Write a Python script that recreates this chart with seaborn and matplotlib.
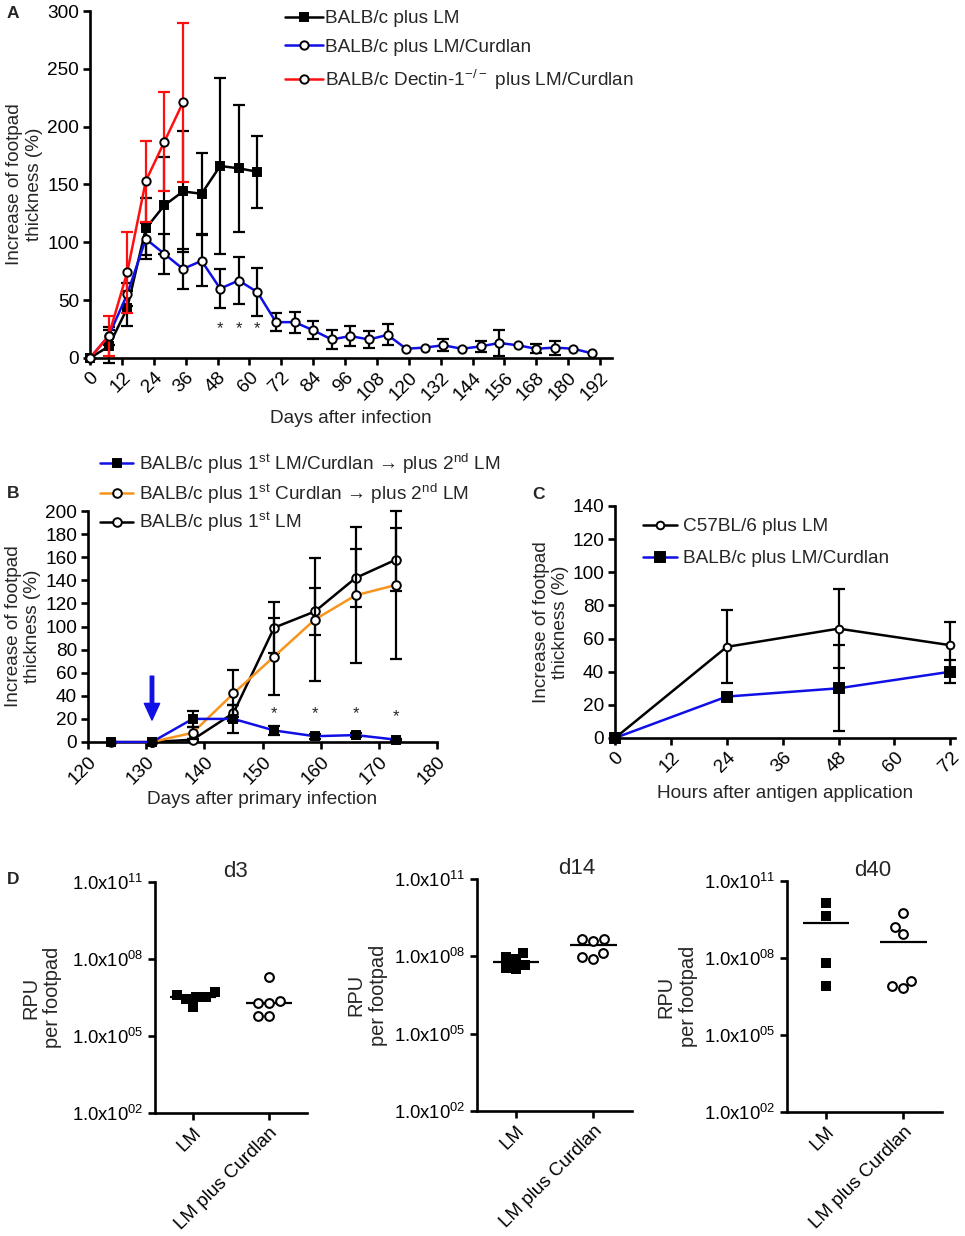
import numpy as np
import pandas as pd
import matplotlib
matplotlib.use("Agg")
import matplotlib.pyplot as plt
import seaborn as sns

# ---------------- data ----------------
# A: footpad swelling after infection (mean, error)
a_days_lm = [0, 7, 14, 21, 28, 35, 42, 49, 56, 63]
a_mean_lm = [0, 10, 43, 112, 132, 144, 142, 166, 164, 161]
a_err_lm = [0, 14, 15, 26, 42, 52, 35, 76, 55, 31]

a_days_cur = [0, 7, 14, 21, 28, 35, 42, 49, 56, 63, 70, 77, 84, 91, 98, 105, 112,
              119, 126, 133, 140, 147, 154, 161, 168, 175, 182, 189]
a_mean_cur = [0, 19, 55, 103, 90, 77, 84, 60, 67, 57, 31, 31, 24, 16, 19, 16, 20,
              8, 9, 11, 8, 10, 13, 11, 8, 9, 8, 4]
a_err_cur = [0, 8, 10, 14, 17, 17, 22, 17, 20, 21, 8, 9, 8, 8, 9, 7, 9,
             0, 0, 5, 0, 5, 11, 0, 4, 6, 0, 0]

a_days_dec = [0, 7, 14, 21, 28, 35]
a_mean_dec = [0, 19, 74, 153, 187, 221]
a_err_dec = [0, 17, 35, 35, 43, 69]

a_star_days = [49, 56, 63]
a_star_y = 25

# B: secondary infection
b_days = [124, 131, 138, 145, 152, 159, 166, 173]
b_mean_lmcur = [0, 0, 20, 20, 10, 5, 6, 2]
b_err_lmcur = [0, 0, 7, 12, 4, 2, 2, 1]
b_mean_cur = [0, 0, 8, 42, 74, 106, 127, 136]
b_err_cur = [0, 0, 5, 20, 33, 53, 59, 64]
b_days_lm = [131, 138, 145, 152, 159, 166, 173]
b_mean_lm = [0, 2, 25, 99, 113, 142, 158]
b_err_lm = [0, 1, 7, 22, 20, 25, 27]

b_star_days = [152, 159, 166, 173]
b_star_y = [25, 25, 25, 22]
b_arrow_day = 131
b_arrow_from, b_arrow_to = 57, 19

# C: DTH after antigen application
c_hours = [0, 24, 48, 72]
c_mean_b6 = [0, 55, 66, 56]
c_err_b6 = [0, 22, 24, 14]
c_mean_balb = [0, 25, 30, 40]
c_err_balb = [0, 2, 26, 7]

# D: RPU per footpad
d_groups = ["LM", "LM plus Curdlan"]
d_days = ["d3", "d14", "d40"]
d_lm = {
    "d3": [3.2e6, 5.2e6, 4.0e6, 2.7e6, 1.4e6, 3.2e6],
    "d14": [1.4e8, 9.1e7, 7.6e7, 4.6e7, 3.1e7, 3.4e7],
    "d40": [1.4e10, 4.5e9, 6.3e7, 8.1e6],
}
d_cur = {
    "d3": [2.0e7, 2.0e6, 2.3e6, 1.9e6, 6.2e5, 6.2e5],
    "d14": [4.5e8, 4.0e8, 4.8e8, 1.3e8, 7.9e7, 9.1e7],
    "d40": [5.6e9, 1.6e9, 8.3e8, 1.3e7, 6.5e6, 7.9e6],
}
d_ticks = [1e2, 1e5, 1e8, 1e11]
d_tick_labels = ["1.0x10$^{02}$", "1.0x10$^{05}$", "1.0x10$^{08}$", "1.0x10$^{11}$"]

BLUE = "#1010E6"
RED = "#FF1010"
ORANGE = "#F7941D"
FS = 13.7

# ---------------- style ----------------
sns.set_style("ticks")
plt.rcParams["font.family"] = ["Liberation Sans", "DejaVu Sans"]
plt.rcParams["mathtext.fontset"] = "custom"
plt.rcParams["mathtext.rm"] = "Liberation Sans"
plt.rcParams["mathtext.default"] = "regular"
plt.rcParams["axes.linewidth"] = 1.9
plt.rcParams["xtick.major.width"] = 1.9
plt.rcParams["ytick.major.width"] = 1.9
plt.rcParams["xtick.major.size"] = 5
plt.rcParams["ytick.major.size"] = 5
plt.rcParams["xtick.major.pad"] = 3
plt.rcParams["ytick.major.pad"] = 3
plt.rcParams["xtick.color"] = "black"
plt.rcParams["ytick.color"] = "black"
plt.rcParams["axes.edgecolor"] = "black"

W, H = 965, 1236
fig = plt.figure(figsize=(W / 100, H / 100), dpi=100)


def rect(l, t, r, b):
    return [l / W, 1 - b / H, (r - l) / W, (b - t) / H]


def series(ax, x, y, err, color, marker, filled, ecolor, label, z, ms=6.2):
    df = pd.DataFrame({"x": x, "y": y, "err": err})
    e = df[df["err"] > 0]
    ax.errorbar(e["x"], e["y"], yerr=e["err"], fmt="none", ecolor=ecolor,
                elinewidth=1.6, capsize=4.5, capthick=1.6, zorder=z - 0.5, clip_on=False)
    sns.lineplot(data=df, x="x", y="y", ax=ax, color=color, lw=1.8, marker=marker,
                 markersize=ms, markerfacecolor="black" if filled else "white",
                 markeredgecolor="black", markeredgewidth=1.4, errorbar=None,
                 sort=False, zorder=z, clip_on=False, label=label)


def finish(ax, xticks, yticks, xlab, ylab, xlab_y, ylab_x):
    sns.despine(ax=ax)
    ax.set_xticks(xticks)
    ax.set_xticklabels([str(t) for t in xticks], rotation=45, ha="right",
                       rotation_mode="anchor", fontsize=FS)
    ax.set_yticks(yticks)
    ax.set_yticklabels([str(t) for t in yticks], fontsize=FS)
    ax.set_xlabel(xlab, fontsize=FS, va="center")
    ax.set_ylabel(ylab, fontsize=FS, va="center")
    ax.xaxis.set_label_coords(0.5, xlab_y)
    ax.yaxis.set_label_coords(ylab_x, 0.5)


# ---------------- panel A ----------------
axA = fig.add_axes(rect(90, 11, 612, 358))
series(axA, a_days_lm, a_mean_lm, a_err_lm, "black", "s", True, "black", "BALB/c plus LM", 3)
series(axA, a_days_cur, a_mean_cur, a_err_cur, BLUE, "o", False, "black", "BALB/c plus LM/Curdlan", 4, ms=6)
series(axA, a_days_dec, a_mean_dec, a_err_dec, RED, "o", False, RED,
       "BALB/c Dectin-1$^{-/-}$ plus LM/Curdlan", 5, ms=6)
axA.set_xlim(0, 196.5)
axA.set_ylim(0, 300)
for d in a_star_days:
    axA.text(d, a_star_y, "*", ha="center", va="center", fontsize=12)
finish(axA, list(range(0, 193, 12)), list(range(0, 301, 50)), "Days after infection",
       "Increase of footpad\nthickness (%)", -0.175, -0.126)
axA.legend(loc="upper left", bbox_to_anchor=(285 / W, 1 - 10 / H), bbox_transform=fig.transFigure,
           frameon=False, fontsize=FS, borderpad=0, borderaxespad=0, handlelength=2.0,
           handletextpad=0.1, labelspacing=0.6)

# ---------------- panel B ----------------
axB = fig.add_axes(rect(88, 511, 437, 742))
series(axB, b_days_lm, b_mean_lm, b_err_lm, "black", "o", False, "black", "BALB/c plus 1$^{st}$ LM", 3)
series(axB, b_days, b_mean_cur, b_err_cur, ORANGE, "o", False, "black",
       "BALB/c plus 1$^{st}$ Curdlan \u2192 plus 2$^{nd}$ LM", 4)
series(axB, b_days, b_mean_lmcur, b_err_lmcur, BLUE, "s", True, "black",
       "BALB/c plus 1$^{st}$ LM/Curdlan \u2192 plus 2$^{nd}$ LM", 5)
axB.set_xlim(120, 180)
axB.set_ylim(0, 200)
for d, yv in zip(b_star_days, b_star_y):
    axB.text(d, yv, "*", ha="center", va="center", fontsize=12)
axB.annotate("", xy=(b_arrow_day, b_arrow_to), xytext=(b_arrow_day, b_arrow_from),
             arrowprops=dict(color=BLUE, width=2.5, headwidth=11, headlength=12))
finish(axB, list(range(120, 181, 10)), list(range(0, 201, 20)), "Days after primary infection",
       "Increase of footpad\nthickness (%)", -0.25, -0.186)
hB, lB = axB.get_legend_handles_labels()
axB.legend(hB[::-1], lB[::-1], loc="upper left", bbox_to_anchor=(100 / W, 1 - 452 / H),
           bbox_transform=fig.transFigure, frameon=False, fontsize=FS, borderpad=0,
           borderaxespad=0, handlelength=1.75, handletextpad=0.3, labelspacing=0.28)

# ---------------- panel C ----------------
axC = fig.add_axes(rect(615, 506, 955, 738))
series(axC, c_hours, c_mean_b6, c_err_b6, "black", "o", False, "black", "C57BL/6 plus LM", 3, ms=5.5)
series(axC, c_hours, c_mean_balb, c_err_balb, BLUE, "s", True, "black", "BALB/c plus LM/Curdlan", 4, ms=7)
axC.set_xlim(0, 73)
axC.set_ylim(0, 140)
finish(axC, list(range(0, 73, 12)), list(range(0, 141, 20)), "Hours after antigen application",
       "Increase of footpad\nthickness (%)", -0.24, -0.188)
axC.legend(loc="upper left", bbox_to_anchor=(643 / W, 1 - 518 / H), bbox_transform=fig.transFigure,
           frameon=False, fontsize=FS, borderpad=0, borderaxespad=0, handlelength=1.8,
           handletextpad=0.3, labelspacing=0.78)

# ---------------- panel D ----------------
d_rects = [(155, 882, 307, 1113), (477, 879, 632, 1111), (787, 881, 942, 1112)]
d_title_x = [0.53, 0.645, 0.555]
d_ylab_x = [42, 367, 677]
for day, r, tx, lx in zip(d_days, d_rects, d_title_x, d_ylab_x):
    ax = fig.add_axes(rect(*r))
    df_lm = pd.DataFrame({"group": d_groups[0], "rpu": d_lm[day]})
    df_cur = pd.DataFrame({"group": d_groups[1], "rpu": d_cur[day]})
    sns.swarmplot(data=df_lm, x="group", y="rpu", order=d_groups, marker="s", color="black",
                  size=7, linewidth=0, ax=ax, log_scale=True, zorder=3)
    sns.swarmplot(data=df_cur, x="group", y="rpu", order=d_groups, marker="o", color="white",
                  edgecolor="black", linewidth=1.5, size=6.3, ax=ax, log_scale=True, zorder=3)
    for i, vals in enumerate([d_lm[day], d_cur[day]]):
        ax.hlines(np.median(vals), i - 0.3, i + 0.3, color="black", lw=1.6, zorder=2)
    ax.set_yscale("log")
    ax.set_ylim(1e2, 1e11)
    ax.set_xlim(-0.5, 1.5)
    ax.minorticks_off()
    ax.set_yticks(d_ticks)
    ax.set_yticklabels(d_tick_labels, fontsize=13.3)
    ax.set_xticks([0, 1])
    ax.set_xticklabels(d_groups, rotation=45, ha="right", rotation_mode="anchor", fontsize=13.6)
    ax.set_xlabel("")
    ax.set_ylabel("RPU\nper footpad", fontsize=14.4, va="center")
    ax.yaxis.set_label_coords((lx - r[0]) / (r[2] - r[0]), 0.5)
    ax.text(tx, 1.0, day, transform=ax.transAxes, ha="center", va="bottom", fontsize=16)
    sns.despine(ax=ax)

# panel letters
for letter, (px, py) in zip("ABCD", [(7, 6), (7, 486), (532, 487), (7, 872)]):
    fig.text(px / W, 1 - py / H, letter, fontsize=12.5, fontweight="bold", va="top", ha="left")

fig.savefig("out.png", dpi=100)
